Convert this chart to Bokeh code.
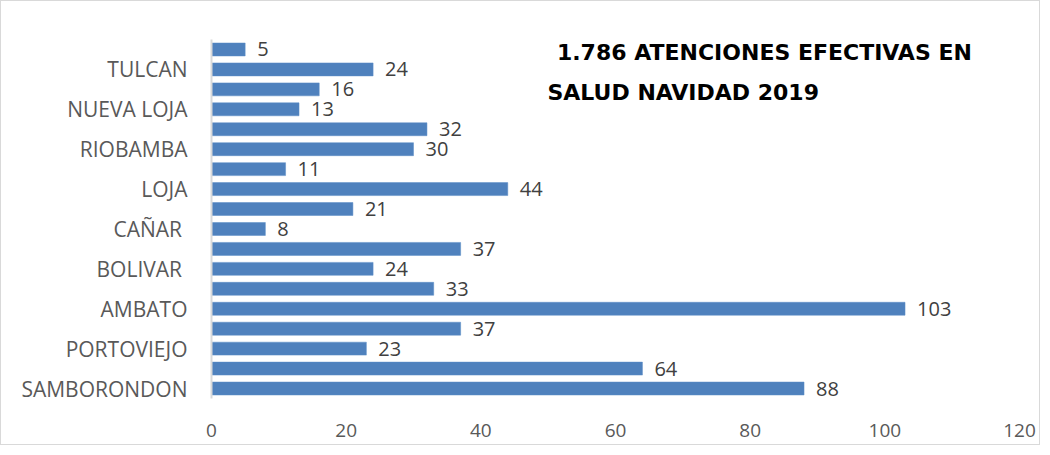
from bokeh.plotting import figure
from bokeh.models import Range1d, FixedTicker, Label, ColumnDataSource
from bokeh.embed import file_html
from bokeh.resources import INLINE
from bokeh.core.properties import value

# bottom to top
labels = ["SAMBORONDON", "", "PORTOVIEJO", "", "AMBATO", "", "BOLIVAR ", "", "CAÑAR ", "",
          "LOJA", "", "RIOBAMBA", "", "NUEVA LOJA", "", "TULCAN", ""]
values = [88, 64, 23, 37, 103, 33, 24, 37, 8, 21, 44, 11, 30, 32, 13, 16, 24, 5]
x_ticks = [0, 20, 40, 60, 80, 100, 120]
title_lines = ["1.786 ATENCIONES EFECTIVAS EN", "SALUD NAVIDAD 2019"]

pos = list(range(len(values)))
src = ColumnDataSource(dict(y=pos, v=values, t=[str(v) for v in values]))

p = figure(width=1040, height=445, output_backend="svg", toolbar_location=None,
           x_range=Range1d(0, 120), y_range=Range1d(-0.5, len(values) - 0.5),
           min_border_left=210, min_border_top=38, min_border_right=22, min_border_bottom=48)
p.styles = {"border": "1px solid #d9d9d9"}
p.outline_line_color = None
p.grid.visible = False
p.background_fill_color = "white"

p.hbar(y="y", right="v", left=0, height=0.65, source=src, fill_color="#4F81BD",
       line_color="#5B8CC6", line_width=0.5)
p.text(x="v", y="y", text="t", source=src, x_offset=12, text_baseline="middle",
       text_align="left", text_font=value("Open Sans"), text_font_size="20px",
       text_color="#404040")

p.xaxis.ticker = FixedTicker(ticks=x_ticks)
p.xaxis.axis_line_color = None
p.xaxis.major_tick_line_color = None
p.xaxis.minor_tick_line_color = None
p.xaxis.major_label_standoff = 19
p.xaxis.major_label_text_font = "Open Sans"
p.xaxis.major_label_text_font_size = "19px"
p.xaxis.major_label_text_color = "#595959"

p.yaxis.ticker = FixedTicker(ticks=[i for i, l in enumerate(labels) if l])
p.yaxis.major_label_overrides = {i: l for i, l in enumerate(labels) if l}
p.yaxis.axis_line_color = "#d9d9d9"
p.yaxis.axis_line_width = 2
p.yaxis.major_tick_line_color = None
p.yaxis.minor_tick_line_color = None
p.yaxis.major_label_standoff = 18
p.yaxis.major_label_text_font = "Open Sans"
p.yaxis.major_label_text_font_size = "21px"
p.yaxis.major_label_text_color = "#595959"

p.add_layout(Label(x=51.3, y=16.85, text=title_lines[0],
                   text_font="DejaVu Sans", text_font_style="bold", text_font_size="22px",
                   text_color="#000000", text_baseline="middle"))
p.add_layout(Label(x=49.9, y=14.84, text=title_lines[1],
                   text_font="DejaVu Sans", text_font_style="bold", text_font_size="22px",
                   text_color="#000000", text_baseline="middle"))

open("out.html", "w").write(file_html(p, INLINE))
